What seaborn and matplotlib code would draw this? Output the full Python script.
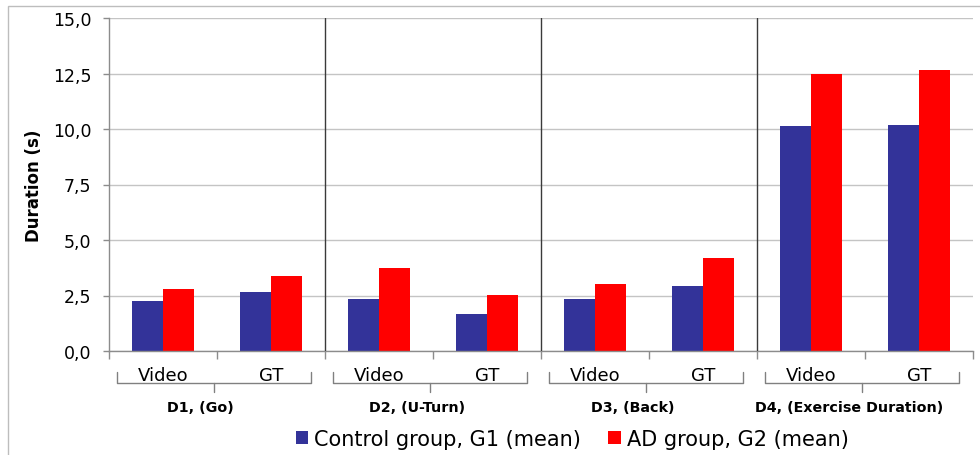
import matplotlib
matplotlib.use("Agg")
import matplotlib.pyplot as plt
from matplotlib.ticker import FuncFormatter, MultipleLocator
from matplotlib.patches import Rectangle
import matplotlib.transforms as mtransforms
import seaborn as sns
import pandas as pd

# Mean durations (s) per task and measurement method
tasks = ["D1, (Go)", "D2, (U-Turn)", "D3, (Back)", "D4, (Exercise Duration)"]
methods = ["Video", "GT"]
groups = ["Control group, G1 (mean)", "AD group, G2 (mean)"]
control_mean = [2.27, 2.65, 2.36, 1.66, 2.36, 2.94, 10.15, 10.20]
ad_mean = [2.78, 3.36, 3.75, 2.53, 3.00, 4.17, 12.50, 12.64]

colors = ["#333399", "#FF0000"]

cats = [f"{t}|{m}" for t in tasks for m in methods]
df = pd.DataFrame({
    "cat": cats * 2,
    "group": [groups[0]] * len(cats) + [groups[1]] * len(cats),
    "value": control_mean + ad_mean,
})

sns.set_theme(style="white")
plt.rcParams["font.family"] = ["DejaVu Sans"]
plt.rcParams["text.color"] = "black"
plt.rcParams["axes.labelcolor"] = "black"

fig = plt.figure(figsize=(9.8, 4.56), dpi=100)
W, H = 980, 456
ax = fig.add_axes([109 / W, 1 - 352 / H, (973 - 109) / W, (352 - 19) / H])

sns.barplot(data=df, x="cat", y="value", hue="group", order=cats,
            hue_order=groups, palette=colors, saturation=1, width=0.575,
            gap=0, linewidth=0, ax=ax, legend=True)

n = len(cats)
ax.set_xlim(-0.5, n - 0.5)
ax.set_ylim(0, 15)
ax.yaxis.set_major_locator(MultipleLocator(2.5))
ax.yaxis.set_major_formatter(FuncFormatter(lambda v, _: f"{v:.1f}".replace(".", ",")))
ax.set_axisbelow(True)
ax.grid(axis="y", color="#c4c4c4", linewidth=1.0)
ax.grid(axis="x", visible=False)

for s in ["top", "right"]:
    ax.spines[s].set_visible(False)
for s in ["left", "bottom"]:
    ax.spines[s].set_color("#8c8c8c")
    ax.spines[s].set_linewidth(1.0)

ax.set_xticks([i - 0.5 for i in range(n + 1)])
ax.set_xticklabels([])
ax.tick_params(axis="x", bottom=True, length=5.5, width=1, color="#8c8c8c")
ax.tick_params(axis="y", left=True, length=4.3, width=1, color="#8c8c8c",
               pad=8.5, labelsize=12.5, labelcolor="black")
ax.set_xlabel("")
ax.set_ylabel("Duration (s)", fontsize=12, fontweight="bold", labelpad=7,
              color="black")

# Separators between tasks
for k in range(1, len(tasks)):
    ax.axvline(2 * k - 0.5, color="#3a3a3a", linewidth=1.0, zorder=3)

# Two-level category labels below the axis
trans = mtransforms.blended_transform_factory(ax.transData, ax.transAxes)
for i, c in enumerate(cats):
    ax.text(i, -0.072, c.split("|")[1], transform=trans, ha="center",
            va="center", fontsize=13, color="black")

y_hook, y_bar, y_tick = -0.063, -0.096, -0.123
for k, t in enumerate(tasks):
    g0, g1 = 2 * k - 0.5, 2 * k + 1.5
    xl, xr = g0 + 0.07, g1 - 0.13
    xc = (xl + xr) / 2
    ax.plot([xl, xl, xr, xr], [y_hook, y_bar, y_bar, y_hook], transform=trans,
            color="#808080", linewidth=1.0, clip_on=False,
            solid_joinstyle="round")
    ax.plot([xc, xc], [y_bar, y_tick], transform=trans, color="#808080",
            linewidth=1.0, clip_on=False)
    ax.text(2 * k + 0.5 - 0.15, -0.168, t, transform=trans, ha="center",
            va="center", fontsize=10.3, fontweight="bold", color="black")

# Legend below the chart
handles, labels = ax.get_legend_handles_labels()
ax.get_legend().remove()
leg = fig.legend(handles, labels, loc="center",
                 bbox_to_anchor=(0.584, 1 - 440 / H), ncol=2, frameon=False,
                 fontsize=15, handlelength=0.6, handleheight=0.6,
                 handletextpad=0.3, columnspacing=1.3)
for txt in leg.get_texts():
    txt.set_color("black")

# Light frame around the chart area
fig.patches.append(Rectangle((8 / W, -0.1), 1.2, 1 - 7 / H + 0.1,
                             transform=fig.transFigure, fill=False,
                             edgecolor="#bdbdbd", linewidth=1.0))

fig.savefig("out.png", dpi=100)
